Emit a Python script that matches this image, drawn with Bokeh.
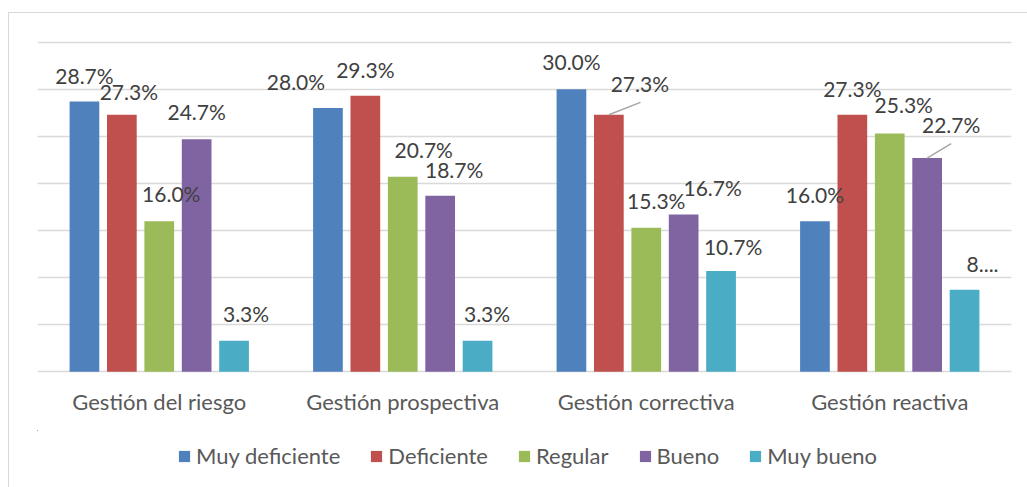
from bokeh.plotting import figure
from bokeh.layouts import column
from bokeh.models import (ColumnDataSource, Range1d, FixedTicker, CustomJSTickFormatter,
                          Legend, LegendItem, InlineStyleSheet)
from bokeh.core.properties import value
from bokeh.embed import file_html
from bokeh.resources import INLINE

# ---------------- data ----------------
categories = ["Gestión del riesgo", "Gestión prospectiva", "Gestión correctiva", "Gestión reactiva"]
series_names = ["Muy deficiente", "Deficiente", "Regular", "Bueno", "Muy bueno"]
muy_deficiente = [28.7, 28.0, 30.0, 16.0]
deficiente = [27.3, 29.3, 27.3, 27.3]
regular = [16.0, 20.7, 15.3, 25.3]
bueno = [24.7, 18.7, 16.7, 22.7]
muy_bueno = [3.3, 3.3, 10.7, 8.7]
labels_muy_deficiente = ["28.7%", "28.0%", "30.0%", "16.0%"]
labels_deficiente = ["27.3%", "29.3%", "27.3%", "27.3%"]
labels_regular = ["16.0%", "20.7%", "15.3%", "25.3%"]
labels_bueno = ["24.7%", "18.7%", "16.7%", "22.7%"]
labels_muy_bueno = ["3.3%", "3.3%", "10.7%", "8...."]
y_ticks = [0, 5, 10, 15, 20, 25, 30, 35]

series_values = [muy_deficiente, deficiente, regular, bueno, muy_bueno]
series_labels = [labels_muy_deficiente, labels_deficiente, labels_regular, labels_bueno, labels_muy_bueno]

# ---------------- styling / layout ----------------
colors = ["#4F81BD", "#C0504D", "#9BBB59", "#8064A2", "#4BACC6"]
# label offsets in pixels (dx, dy) per series / category
label_dx = [[0, -32, 0, 0], [7, 0, 31, 0], [12, 21, 10, 14], [0, 14, 29, 24], [12, 9.5, 12, 18]]
label_dy = [[-25, -25, -26, -25], [-22, -25, -30, -25], [-26, -26, -26, -28],
            [-26, -25, -26, -32], [-26, -26, -23, -24]]
DY_SHIFT = -1.5
# leader lines: (series, category, end dx px, end dy px)
leaders = [(1, 2, 31.6, -12.3), (3, 3, 24.0, -14.4)]

W = 1027
H_MAIN, H_LEG = 430, 57
B_LEFT, B_RIGHT, B_TOP = 37, 16, 40
FRAME_BOTTOM = 373
PAD = 0.18  # range padding so that first/last grid lines are fully visible
FONT = "Lato"
BAR_W = 0.122
STEP = 0.1536
GRAY = "#d9d9d9"
LEGEND_LOC = (140, 18)

FRAME_W = W - B_LEFT - B_RIGHT
FRAME_H = FRAME_BOTTOM - B_TOP
y0r, y1r = y_ticks[0] - PAD, y_ticks[-1] + PAD
px_x = FRAME_W / len(categories)
px_y = FRAME_H / (y1r - y0r)


def border_css(top_px):
    return InlineStyleSheet(css=(
        ":host { background: "
        f"linear-gradient({GRAY},{GRAY}) 8px {top_px}px / 1px 100% no-repeat, "
        + (f"linear-gradient({GRAY},{GRAY}) 8px {top_px}px / 100% 1px no-repeat, " if top_px else "")
        + "white; }"))


p = figure(width=W, height=H_MAIN, output_backend="svg", toolbar_location=None,
           x_range=Range1d(0, len(categories)), y_range=Range1d(y0r, y1r),
           min_border_left=B_LEFT, min_border_right=B_RIGHT,
           min_border_top=B_TOP, min_border_bottom=H_MAIN - FRAME_BOTTOM)
p.outline_line_color = None
p.background_fill_color = "white"
p.border_fill_color = None
p.stylesheets = [border_css(12)]

p.yaxis.visible = False
p.xgrid.visible = False
p.ygrid.ticker = FixedTicker(ticks=y_ticks)
p.ygrid.grid_line_color = GRAY
p.ygrid.grid_line_width = 1.6

p.xaxis.ticker = FixedTicker(ticks=[i + 0.5 for i in range(len(categories))])
p.xaxis.formatter = CustomJSTickFormatter(args=dict(cats=categories),
                                          code="return cats[Math.round(tick - 0.5)];")
p.xaxis.axis_line_color = None
p.xaxis.major_tick_line_color = None
p.xaxis.minor_tick_line_color = None
p.xaxis.major_tick_out = 0
p.xaxis.major_tick_in = 0
p.xaxis.major_label_text_font = FONT
p.xaxis.major_label_text_font_size = "22px"
p.xaxis.major_label_text_color = "#595959"
p.xaxis.major_label_standoff = 14

n = len(series_values)
sources = []
for j, vals in enumerate(series_values):
    xs = [i + 0.5 + (j - (n - 1) / 2) * STEP for i in range(len(categories))]
    src = ColumnDataSource(dict(x=xs, top=vals, text=series_labels[j], dx=label_dx[j],
                                dy=[d + DY_SHIFT for d in label_dy[j]]))
    sources.append(src)
    p.vbar(x="x", top="top", width=BAR_W, bottom=0, source=src,
           fill_color=colors[j], line_color=None)

for src in sources:
    p.text(x="x", y="top", text="text", x_offset="dx", y_offset="dy", source=src,
           text_font=value(FONT), text_font_size="21px", text_color="#404040",
           text_align="center", text_baseline="middle")

# leader lines
lx0, ly0, lx1, ly1 = [], [], [], []
for (j, i, ex, ey) in leaders:
    x0 = i + 0.5 + (j - (n - 1) / 2) * STEP
    y0 = series_values[j][i]
    lx0.append(x0); ly0.append(y0)
    lx1.append(x0 + ex / px_x); ly1.append(y0 - ey / px_y)
p.segment(x0=lx0, y0=ly0, x1=lx1, y1=ly1, line_color="#a6a6a6", line_width=1.5)

# ---------------- legend strip (bars of the same series, kept far outside its view) ----------------
pl = figure(width=W, height=H_LEG, output_backend="svg", toolbar_location=None,
            x_range=Range1d(1000, 1001), y_range=Range1d(-1000, -999),
            min_border_left=0, min_border_right=0, min_border_top=0, min_border_bottom=0)
pl.xaxis.visible = False
pl.yaxis.visible = False
pl.xgrid.visible = False
pl.ygrid.visible = False
pl.outline_line_color = None
pl.background_fill_color = None
pl.border_fill_color = None
pl.stylesheets = [border_css(0)]

items = []
for j, name in enumerate(series_names):
    r = pl.vbar(x="x", top="top", bottom=0, width=BAR_W, source=sources[j],
                fill_color=colors[j], line_color=None)
    items.append(LegendItem(label=name, renderers=[r]))

legend = Legend(items=items, orientation="horizontal", location=LEGEND_LOC,
                glyph_width=14, glyph_height=14, label_standoff=5, spacing=29,
                label_text_font=FONT, label_text_font_size="22px",
                label_text_color="#595959", border_line_color=None,
                background_fill_alpha=0, padding=0, margin=0)
pl.add_layout(legend, "center")

layout = column(p, pl, spacing=0)
open("out.html", "w").write(file_html(layout, INLINE))
